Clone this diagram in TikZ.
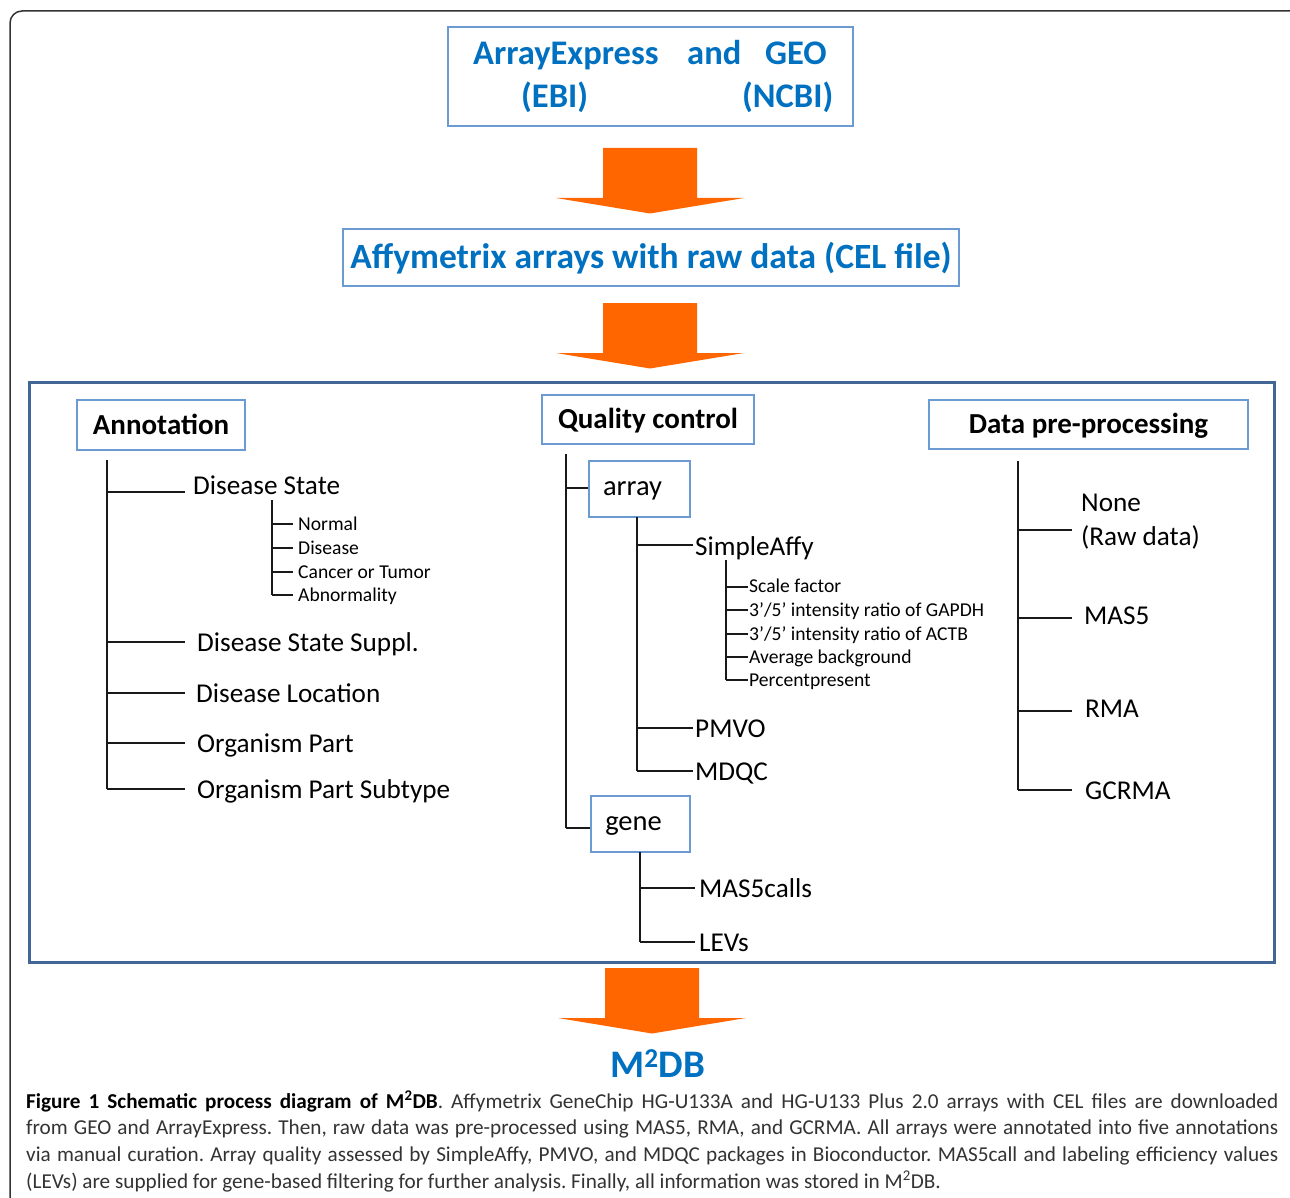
\documentclass[tikz,border=0pt]{standalone}
\usepackage{fontspec}
\setmainfont{Carlito}
\newfontfamily\capfont{Carlito}
\definecolor{tblue}{RGB}{0,112,192}
\definecolor{lbox}{RGB}{108,155,212}
\definecolor{dbox}{RGB}{68,102,150}
\definecolor{aorange}{RGB}{255,102,0}
\begin{document}
\begin{tikzpicture}[x=1pt,y=-1pt,
  lbx/.style={draw=lbox,line width=1.5pt,inner sep=0pt,text depth=0pt},
  tree/.style={line width=1.5pt,draw=black!90},
  subtree/.style={line width=1.2pt,draw=black!90},
  bigt/.style={font=\fontsize{34.5}{40}\selectfont\bfseries,text=tblue},
  headt/.style={font=\fontsize{29}{34}\selectfont\bfseries,text height=18.7pt},
  txt/.style={anchor=base west,inner sep=0pt},
  itemt/.style={txt,font=\fontsize{27.2}{30}\selectfont},
  smallt/.style={txt,font=\fontsize{19.6}{23}\selectfont},
  bigarrow/.style={fill=aorange}
]
\clip (0,0) rectangle (1290,1198);
\fill[white] (0,0) rectangle (1290,1198);
% outer frame
\draw[line width=1.5pt,black!80,rounded corners=12pt] (10,11) rectangle (1304,1210);

% top source box
\node[lbx,minimum width=405,minimum height=99] (src) at (650.5,76.5) {};
\node[txt,bigt] (ae) at (473,65) {ArrayExpress};
\node[txt,bigt] (and) at (687,65) {and};
\node[txt,bigt] (geo) at (765,65) {GEO};
\node[txt,bigt] (ebi) at (521,108) {(EBI)};
\node[txt,bigt] (ncbi) at (742,108) {(NCBI)};

% arrow 1
\fill[bigarrow] (603,148) -- (697,148) -- (697,198) -- (744,198) -- (650,213.5) -- (556,198) -- (603,198) -- cycle;

% CEL box
\node[lbx,font=\fontsize{35.5}{40}\selectfont\bfseries,text=tblue,text height=22.9pt,minimum width=616,minimum height=57] (aff) at (651,257.5) {Affymetrix arrays with raw data (CEL file)};

% arrow 2
\fill[bigarrow] (603,303) -- (697,303) -- (697,353) -- (744,353) -- (650,368.5) -- (556,353) -- (603,353) -- cycle;

% big panel
\node[draw=dbox,line width=3pt,minimum width=1245,minimum height=580,inner sep=0pt] (panel) at (652,672.5) {};

% headings
\node[lbx,headt,minimum width=168,minimum height=50] (annot) at (161,425) {Annotation};
\node[lbx,headt,minimum width=212,minimum height=49] (qc) at (648,419.5) {Quality control};
\node[lbx,headt,minimum width=319,minimum height=49] (dpp) at (1088.5,424.5) {Data pre-processing};

% ---------- Annotation tree
\draw[tree] (107,460) -- (107,789);
\node[itemt] (ds) at (193,494) {Disease State};
\node[itemt] (dss) at (197,651) {Disease State Suppl.};
\node[itemt] (dl) at (196,702) {Disease Location};
\node[itemt] (op) at (197,752) {Organism Part};
\node[itemt] (ops) at (197,798) {Organism Part Subtype};
\draw[tree] (107,492) -- (185,492);
\draw[tree] (107,642) -- (185,642);
\draw[tree] (107,693) -- (185,693);
\draw[tree] (107,743) -- (185,743);
\draw[tree] (107,789) -- (185,789);
% disease state subtree
\draw[subtree] (272,500) -- (272,595);
\node[smallt] (nor) at (298,530) {Normal};
\node[smallt] (dis) at (298,554) {Disease};
\node[smallt] (cot) at (298,578) {Cancer or Tumor};
\node[smallt] (abn) at (298,601) {Abnormality};
\foreach \yy in {524,548,572,595} \draw[subtree] (272,\yy) -- (293,\yy);

% ---------- Quality control tree
\draw[tree] (566,454) -- (566,828);
\node[lbx,font=\fontsize{28.5}{32}\selectfont,text height=13.4pt,minimum width=101,minimum height=56] (arr) at (639.5,489) {array\kern 14pt};
\node[lbx,font=\fontsize{28.5}{32}\selectfont,text height=13.4pt,minimum width=99,minimum height=56] (gene) at (640.5,824) {gene\kern 14pt};
\draw[tree] (566,488) -- (arr.west |- 0,488);
\draw[tree] (566,828) -- (gene.west |- 0,828);
% array subtree
\draw[tree] (637,517) -- (637,771);
\node[itemt] (sa) at (695,555) {SimpleAffy};
\node[itemt] (pmvo) at (695,737) {PMVO};
\node[itemt] (mdqc) at (695,780) {MDQC};
\draw[tree] (637,545) -- (693,545);
\draw[tree] (637,728) -- (693,728);
\draw[tree] (637,771) -- (693,771);
% simpleaffy subtree
\draw[subtree] (726,560) -- (726,680);
\node[smallt] (sf) at (749,592) {Scale factor};
\node[smallt] (gap) at (749,616) {3’/5’ intensity ratio of GAPDH};
\node[smallt] (actb) at (749,640) {3’/5’ intensity ratio of ACTB};
\node[smallt] (avg) at (749,663) {Average background};
\node[smallt] (pp) at (749,686) {Percentpresent};
\foreach \yy in {587,610,634,657,680} \draw[subtree] (726,\yy) -- (748,\yy);
% gene subtree
\draw[tree] (640,852) -- (640,942);
\node[itemt] (m5c) at (699,897) {MAS5calls};
\node[itemt] (lev) at (699,951) {LEVs};
\draw[tree] (640,888) -- (695,888);
\draw[tree] (640,942) -- (695,942);

% ---------- Data pre-processing tree
\draw[tree] (1018,461) -- (1018,790);
\node[itemt] (none) at (1081,511) {None};
\node[itemt] (raw) at (1081,545) {(Raw data)};
\node[itemt] (mas5) at (1084,624) {MAS5};
\node[itemt] (rma) at (1085,717) {RMA};
\node[itemt] (gcrma) at (1085,799) {GCRMA};
\draw[tree] (1018,530) -- (1072,530);
\draw[tree] (1018,618) -- (1072,618);
\draw[tree] (1018,711) -- (1072,711);
\draw[tree] (1018,790) -- (1072,790);

% arrow 3
\fill[bigarrow] (605,968) -- (699,968) -- (699,1018) -- (746,1018) -- (652,1033.5) -- (558,1018) -- (605,1018) -- cycle;

% M2DB
\node[txt,font=\fontsize{39}{44}\selectfont\bfseries,text=tblue] (m2db) at (610,1077) {M\textsuperscript{2}DB};

% caption
\node[txt,text width=1252,align=justify,font=\capfont\fontsize{21.2}{26.7}\selectfont\frenchspacing,text=black!80] (cap) at (26,1108)
{{\color{black}\bfseries Figure 1 Schematic process diagram of M\textsuperscript{2}DB}. Affymetrix GeneChip HG-U133A and HG-U133 Plus 2.0 arrays with CEL files are downloaded\linebreak
from GEO and ArrayExpress. Then, raw data was pre-processed using MAS5, RMA, and GCRMA. All arrays were annotated into five annotations\linebreak
via manual curation. Array quality assessed by SimpleAffy, PMVO, and MDQC packages in Bioconductor. MAS5call and labeling efficiency values\linebreak
(LEVs) are supplied for gene-based filtering for further analysis. Finally, all information was stored in M\textsuperscript{2}DB.};
\end{tikzpicture}
\end{document}
